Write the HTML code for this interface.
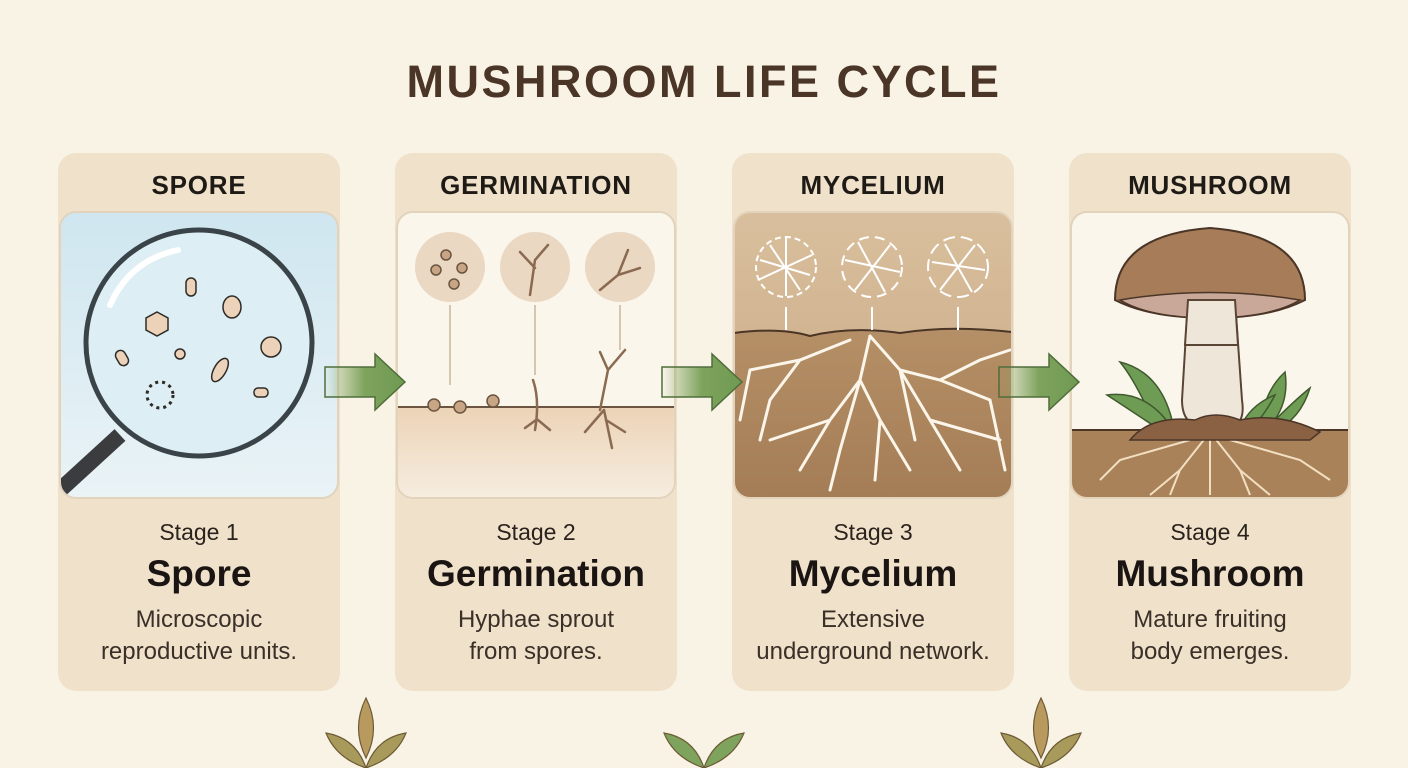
<!DOCTYPE html>
<html><head><meta charset="utf-8"><style>
html,body{margin:0;padding:0;background:#f9f3e6;}
svg{display:block;font-family:"Liberation Sans",sans-serif;}
</style></head><body>
<svg width="1408" height="768" viewBox="0 0 1408 768" xmlns="http://www.w3.org/2000/svg">
<defs>
<linearGradient id="sky" x1="0" y1="0" x2="0" y2="1"><stop offset="0" stop-color="#cfe6f0"/><stop offset="1" stop-color="#eaf3f6"/></linearGradient>
<linearGradient id="soil2" x1="0" y1="0" x2="0" y2="1"><stop offset="0" stop-color="#ecd3b6"/><stop offset="1" stop-color="#f6ede0"/></linearGradient>
<linearGradient id="myc" x1="0" y1="0" x2="0" y2="1"><stop offset="0" stop-color="#d9bf9d"/><stop offset="1" stop-color="#c9a884"/></linearGradient>
<linearGradient id="soil3" x1="0" y1="0" x2="0" y2="1"><stop offset="0" stop-color="#b58f66"/><stop offset="1" stop-color="#a47d56"/></linearGradient>
<linearGradient id="arr" x1="0" y1="0" x2="1" y2="0"><stop offset="0" stop-color="#7ea35d" stop-opacity="0"/><stop offset="0.5" stop-color="#7ea35d"/><stop offset="1" stop-color="#6f9a52"/></linearGradient>
<clipPath id="c1"><rect x="60" y="212" width="278" height="286" rx="16"/></clipPath>
<clipPath id="c2"><rect x="397" y="212" width="278" height="286" rx="16"/></clipPath>
<clipPath id="c3"><rect x="734" y="212" width="278" height="286" rx="16"/></clipPath>
<clipPath id="c4"><rect x="1071" y="212" width="278" height="286" rx="16"/></clipPath>
</defs>
<rect width="1408" height="768" fill="#f9f3e6"/>
<text x="704" y="97" text-anchor="middle" font-size="45" font-weight="bold" fill="#4a3527" letter-spacing="2.5">MUSHROOM LIFE CYCLE</text>

<g fill="#f0e1ca">
<rect x="58" y="153" width="282" height="538" rx="18"/>
<rect x="395" y="153" width="282" height="538" rx="18"/>
<rect x="732" y="153" width="282" height="538" rx="18"/>
<rect x="1069" y="153" width="282" height="538" rx="18"/>
</g>
<g font-size="26" font-weight="bold" fill="#1e1a16" text-anchor="middle" letter-spacing="0.8">
<text x="199" y="194">SPORE</text><text x="536" y="194">GERMINATION</text><text x="873" y="194">MYCELIUM</text><text x="1210" y="194">MUSHROOM</text>
</g>

<g clip-path="url(#c1)">
<rect x="60" y="212" width="278" height="286" fill="url(#sky)"/>
<line x1="60" y1="490" x2="120" y2="435" stroke="#3a3c3e" stroke-width="16"/>
<circle cx="199" cy="343" r="113" fill="#ddeef4" stroke="#3a4348" stroke-width="5"/>
<path d="M110 305 Q130 260 178 250" stroke="#fff" stroke-width="6" fill="none" stroke-linecap="round"/>
<g fill="#ecd2b8" stroke="#2e2a26" stroke-width="1.5">
<rect x="186" y="278" width="10" height="18" rx="5"/><ellipse cx="232" cy="307" rx="9" ry="11"/>
<polygon points="157,312 168,318 168,330 157,336 146,330 146,318"/>
<rect x="117" y="350" width="10" height="16" rx="5" transform="rotate(-30 122 358)"/>
<circle cx="180" cy="354" r="5"/><circle cx="271" cy="347" r="10"/>
<ellipse cx="220" cy="370" rx="6" ry="13" transform="rotate(30 220 370)"/>
<rect x="254" y="388" width="14" height="9" rx="4"/>
</g>
<circle cx="160" cy="395" r="13" fill="none" stroke="#2e2a26" stroke-width="3" stroke-dasharray="3 4"/>
</g>
<rect x="60" y="212" width="278" height="286" rx="16" fill="none" stroke="#e2d3bd" stroke-width="2"/>

<g clip-path="url(#c2)">
<rect x="397" y="212" width="278" height="286" fill="#fbf6ec"/>
<rect x="397" y="407" width="278" height="91" fill="url(#soil2)"/>
<line x1="397" y1="407" x2="675" y2="407" stroke="#6b5440" stroke-width="2"/>
<g fill="#ead8c2"><circle cx="450" cy="267" r="35"/><circle cx="535" cy="267" r="35"/><circle cx="620" cy="267" r="35"/></g>
<g fill="#c7a585" stroke="#6b5440" stroke-width="1.5"><circle cx="446" cy="255" r="5"/><circle cx="436" cy="270" r="5"/><circle cx="462" cy="268" r="5"/><circle cx="454" cy="284" r="5"/>
<circle cx="434" cy="405" r="6"/><circle cx="460" cy="407" r="6"/><circle cx="493" cy="401" r="6"/></g>
<g stroke="#8a6a50" stroke-width="2.5" fill="none" stroke-linecap="round">
<path d="M530 295 L535 260 L548 245 M535 268 L520 252"/><path d="M600 290 L618 275 L640 268 M618 275 L628 250"/>
<path d="M533 380 Q540 400 535 430 M536 420 L525 428 M538 420 L550 430"/>
<path d="M600 410 L608 370 L625 350 M608 370 L600 352 M604 410 L585 432 M604 410 L612 448 M606 420 L625 432"/>
</g>
<g stroke="#cdb59a" stroke-width="1.5"><line x1="450" y1="305" x2="450" y2="385"/><line x1="535" y1="305" x2="535" y2="375"/><line x1="620" y1="305" x2="620" y2="350"/></g>
</g>
<rect x="397" y="212" width="278" height="286" rx="16" fill="none" stroke="#e2d3bd" stroke-width="2"/>

<g clip-path="url(#c3)">
<rect x="734" y="212" width="278" height="286" fill="url(#myc)"/>
<path d="M734 333 Q780 327 810 336 Q850 326 900 333 Q950 325 1012 332 L1012 498 L734 498Z" fill="url(#soil3)"/>
<path d="M734 333 Q780 327 810 336 Q850 326 900 333 Q950 325 1012 332" stroke="#4a3527" stroke-width="2" fill="none"/>
<g stroke="#fbf5ea" stroke-width="3" fill="none" stroke-linecap="round">
<path d="M870 336 L860 380 L830 420 L800 470 M860 380 L880 420 L875 480 M870 336 L900 370 L930 420 L960 470 M900 370 L940 380 L990 400 M850 340 L800 360 L750 370 M830 420 L770 440 M930 420 L1000 440 M880 420 L910 470 M800 360 L770 400 L760 440 M940 380 L980 360 L1010 350 M860 380 L840 450 L830 490 M900 370 L915 440 M750 370 L740 420 M990 400 L1005 470"/>
</g>
<g stroke="#fff" stroke-width="2" fill="none">
<circle cx="786" cy="267" r="30" stroke-dasharray="6 4"/><path d="M760 260 L810 275 M770 245 L800 290 M786 238 L786 296 M758 280 L812 255"/>
<circle cx="872" cy="267" r="30" stroke-dasharray="10 6"/><path d="M845 260 L900 272 M858 242 L885 292 M890 245 L855 290"/>
<circle cx="958" cy="267" r="30" stroke-dasharray="12 6"/><path d="M932 262 L985 270 M945 244 L972 292 M975 245 L940 290"/>
<line x1="786" y1="307" x2="786" y2="330"/><line x1="872" y1="307" x2="872" y2="330"/><line x1="958" y1="307" x2="958" y2="330"/>
</g>
</g>
<rect x="734" y="212" width="278" height="286" rx="16" fill="none" stroke="#e2d3bd" stroke-width="2"/>

<g clip-path="url(#c4)">
<rect x="1071" y="212" width="278" height="286" fill="#fbf6ec"/>
<rect x="1071" y="430" width="278" height="68" fill="#a9825a"/>
<line x1="1071" y1="430" x2="1349" y2="430" stroke="#4a3527" stroke-width="2"/>
<g stroke="#f2dfc2" stroke-width="2" fill="none"><path d="M1210 432 L1180 470 L1150 495 M1210 432 L1240 470 L1270 495 M1210 432 L1210 495 M1190 440 L1120 460 L1100 480 M1230 440 L1300 460 L1330 480 M1180 470 L1170 495 M1240 470 L1250 495"/></g>
<g fill="#6f9c54" stroke="#3f5a2e" stroke-width="1.5">
<path d="M1155 425 Q1135 380 1120 362 Q1160 372 1172 420Z"/><path d="M1160 430 Q1130 410 1107 395 Q1145 390 1170 425Z"/>
<path d="M1260 425 Q1265 390 1285 372 Q1290 405 1268 428Z"/><path d="M1240 428 Q1250 405 1275 395 Q1262 420 1248 430Z"/><path d="M1270 425 Q1295 400 1310 388 Q1300 420 1275 430Z"/>
</g>
<path d="M1188 300 L1182 400 Q1182 420 1195 425 L1235 425 Q1245 420 1242 400 L1235 300Z" fill="#efe6da" stroke="#5a4534" stroke-width="2"/>
<path d="M1115 300 Q1115 235 1210 228 Q1305 235 1305 300 Q1270 318 1210 318 Q1150 318 1115 300Z" fill="#a77c58" stroke="#4a3527" stroke-width="2"/>
<path d="M1120 300 Q1210 285 1300 300 Q1270 318 1210 318 Q1150 318 1120 300Z" fill="#c9a89a" stroke="#4a3527" stroke-width="1.5"/>
<path d="M1188 300 L1235 300 L1238 345 L1185 345Z" fill="#efe6da" stroke="#5a4534" stroke-width="2"/>
<path d="M1130 440 Q1150 415 1195 420 Q1215 410 1240 420 Q1280 412 1320 432 L1310 440Z" fill="#8a6243" stroke="#4a3527" stroke-width="1.5"/>
</g>
<rect x="1071" y="212" width="278" height="286" rx="16" fill="none" stroke="#e2d3bd" stroke-width="2"/>

<g fill="url(#arr)" stroke="#4f6e3b" stroke-width="1.5">
<path d="M325 367 L375 367 L375 354 L405 382 L375 410 L375 397 L325 397Z"/>
<path d="M662 367 L712 367 L712 354 L742 382 L712 410 L712 397 L662 397Z"/>
<path d="M999 367 L1049 367 L1049 354 L1079 382 L1049 410 L1049 397 L999 397Z"/>
</g>

<g text-anchor="middle" fill="#2a231d">
<g font-size="23"><text x="199" y="540">Stage 1</text><text x="536" y="540">Stage 2</text><text x="873" y="540">Stage 3</text><text x="1210" y="540">Stage 4</text></g>
<g font-size="37" font-weight="bold" fill="#1a1512"><text x="199" y="586">Spore</text><text x="536" y="586">Germination</text><text x="873" y="586">Mycelium</text><text x="1210" y="586">Mushroom</text></g>
<g font-size="24" fill="#3a3028">
<text x="199" y="627">Microscopic</text><text x="199" y="659">reproductive units.</text>
<text x="536" y="627">Hyphae sprout</text><text x="536" y="659">from spores.</text>
<text x="873" y="627">Extensive</text><text x="873" y="659">underground network.</text>
<text x="1210" y="627">Mature fruiting</text><text x="1210" y="659">body emerges.</text>
</g></g>

<g stroke="#6d5a36" stroke-width="1.2">
<g transform="translate(366 768)"><path d="M0 0 Q-30 -10 -40 -35 Q-10 -30 0 0Z" fill="#a89a5a"/><path d="M0 0 Q30 -10 40 -35 Q10 -30 0 0Z" fill="#a89a5a"/><path d="M0 -10 Q-15 -40 0 -70 Q15 -40 0 -10Z" fill="#b89a5e"/></g>
<g transform="translate(704 768)" fill="#7ea35d"><path d="M0 0 Q-30 -10 -40 -35 Q-10 -30 0 0Z"/><path d="M0 0 Q30 -10 40 -35 Q10 -30 0 0Z"/></g>
<g transform="translate(1041 768)"><path d="M0 0 Q-30 -10 -40 -35 Q-10 -30 0 0Z" fill="#a89a5a"/><path d="M0 0 Q30 -10 40 -35 Q10 -30 0 0Z" fill="#a89a5a"/><path d="M0 -10 Q-15 -40 0 -70 Q15 -40 0 -10Z" fill="#b89a5e"/></g>
</g>
</svg>
</body></html>
